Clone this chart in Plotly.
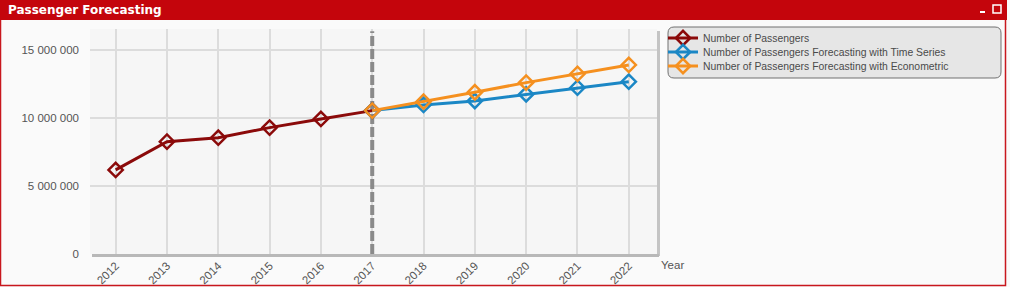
import plotly.graph_objects as go

# ---- data ----
years_actual = [2012, 2013, 2014, 2015, 2016, 2017]
passengers_actual = [6180000, 8260000, 8550000, 9290000, 9930000, 10540000]

years_forecast = [2017, 2018, 2019, 2020, 2021, 2022]
forecast_time_series = [10540000, 10960000, 11250000, 11740000, 12230000, 12670000]
forecast_econometric = [10540000, 11200000, 11890000, 12600000, 13240000, 13900000]

forecast_start = 2017
x_ticks = [2012, 2013, 2014, 2015, 2016, 2017, 2018, 2019, 2020, 2021, 2022]
y_ticks = [0, 5000000, 10000000, 15000000]
y_max = 16540000

series_names = [
    "Number of Passengers",
    "Number of Passengers Forecasting with Time Series",
    "Number of Passengers Forecasting with Econometric",
]
colors = ["#8b0a0a", "#1b87c5", "#f5901f"]

# ---- figure geometry (pixels) ----
W, H = 1010, 287
L, R, T, B = 90, 657, 29, 254   # plot area box


def px(x):
    return (x - L) / (R - L)


def py(y):
    return (B - y) / (B - T)


fig = go.Figure()

# forecast start marker line (dashed), drawn first so series sit on top
fig.add_trace(go.Scatter(
    x=[forecast_start, forecast_start], y=[0, y_max * 0.99],
    mode="lines", showlegend=False, hoverinfo="skip",
    line=dict(color="#8a8a8a", width=4, dash="10px,3px"),
))

series = [
    (years_actual, passengers_actual),
    (years_forecast, forecast_time_series),
    (years_forecast, forecast_econometric),
]
legend_ids = ["legend", "legend2", "legend3"]
for (xs, ys), name, col, lid in zip(series, series_names, colors, legend_ids):
    fig.add_trace(go.Scatter(
        x=xs, y=ys, name=name, legend=lid,
        mode="lines+markers",
        line=dict(color=col, width=3),
        marker=dict(symbol="diamond-open", size=11, color=col, line=dict(width=2.5)),
    ))

shapes = []
# outer frame
shapes.append(dict(type="rect", xref="paper", yref="paper",
                   x0=px(0.5), x1=px(1005.5), y0=py(285.5), y1=py(0),
                   line=dict(color="#c8171d", width=1.5), fillcolor="rgba(0,0,0,0)", layer="below"))
# title bar
shapes.append(dict(type="rect", xref="paper", yref="paper",
                   x0=px(0), x1=px(1007), y0=py(20), y1=py(0),
                   line=dict(width=0), fillcolor="#c4050c", layer="below"))
# window icons
shapes.append(dict(type="rect", xref="paper", yref="paper",
                   x0=px(993), x1=px(1001), y0=py(13), y1=py(5),
                   line=dict(color="white", width=1.5), fillcolor="rgba(0,0,0,0)"))
shapes.append(dict(type="rect", xref="paper", yref="paper",
                   x0=px(980), x1=px(985), y0=py(13), y1=py(11),
                   line=dict(width=0), fillcolor="white"))
# plot shadow
shapes.append(dict(type="line", xref="paper", yref="paper",
                   x0=px(658.5), x1=px(658.5), y0=py(256), y1=py(T + 2),
                   line=dict(color="#c4c4c4", width=3)))
shapes.append(dict(type="line", xref="paper", yref="paper",
                   x0=px(L + 2), x1=px(659), y0=py(255.5), y1=py(255.5),
                   line=dict(color="#b8b8b8", width=3)))
# legend box (rounded)
lx0, lx1, ly0, ly1, r = 668, 1001, 27, 78, 6
path = (f"M {px(lx0 + r)} {py(ly0)} L {px(lx1 - r)} {py(ly0)} "
        f"Q {px(lx1)} {py(ly0)} {px(lx1)} {py(ly0 + r)} "
        f"L {px(lx1)} {py(ly1 - r)} Q {px(lx1)} {py(ly1)} {px(lx1 - r)} {py(ly1)} "
        f"L {px(lx0 + r)} {py(ly1)} Q {px(lx0)} {py(ly1)} {px(lx0)} {py(ly1 - r)} "
        f"L {px(lx0)} {py(ly0 + r)} Q {px(lx0)} {py(ly0)} {px(lx0 + r)} {py(ly0)} Z")
shapes.append(dict(type="path", xref="paper", yref="paper", path=path,
                   line=dict(color="#707070", width=1), fillcolor="#e6e6e6", layer="below"))

legend_common = dict(xanchor="left", yanchor="middle", bgcolor="rgba(0,0,0,0)",
                     borderwidth=0, font=dict(size=10.4, color="#4a4a4a"), itemwidth=30)

fig.update_layout(
    width=W, height=H,
    margin=dict(l=L, r=W - R, t=T, b=H - B, pad=0, autoexpand=False),
    paper_bgcolor="#fafafa",
    plot_bgcolor="#f6f6f6",
    separators=". ",
    font=dict(family="Liberation Sans, Arial, sans-serif", size=11, color="#555555"),
    showlegend=True,
    legend=dict(x=px(663), y=py(38), **legend_common),
    legend2=dict(x=px(663), y=py(52), **legend_common),
    legend3=dict(x=px(663), y=py(66), **legend_common),
    shapes=shapes,
    annotations=[
        dict(text="<b>Passenger Forecasting</b>", xref="paper", yref="paper",
             x=px(6), y=py(10), xanchor="left", yanchor="middle", showarrow=False,
             font=dict(family="DejaVu Sans, Verdana, sans-serif", size=12, color="white")),
        dict(text="Year", xref="paper", yref="paper",
             x=px(659), y=py(265), xanchor="left", yanchor="middle", showarrow=False,
             font=dict(size=11.5, color="#555555")),
    ],
)

fig.update_xaxes(
    range=[2011.5, 2022.55], tickmode="array", tickvals=x_ticks,
    ticktext=[str(v) for v in x_ticks], tickangle=-45,
    showgrid=True, gridcolor="#dcdcdc", gridwidth=2,
    zeroline=False, showline=False, ticks="", ticklabelstandoff=2,
    automargin=False, tickfont=dict(size=11.5),
)
fig.update_yaxes(
    range=[0, y_max], tickmode="array", tickvals=y_ticks, tickformat=",d",
    showgrid=True, gridcolor="#dcdcdc", gridwidth=2,
    zeroline=False, showline=False, ticks="", ticklabelstandoff=10,
    automargin=False, tickfont=dict(size=11.5),
)

fig.write_html("out.html")
